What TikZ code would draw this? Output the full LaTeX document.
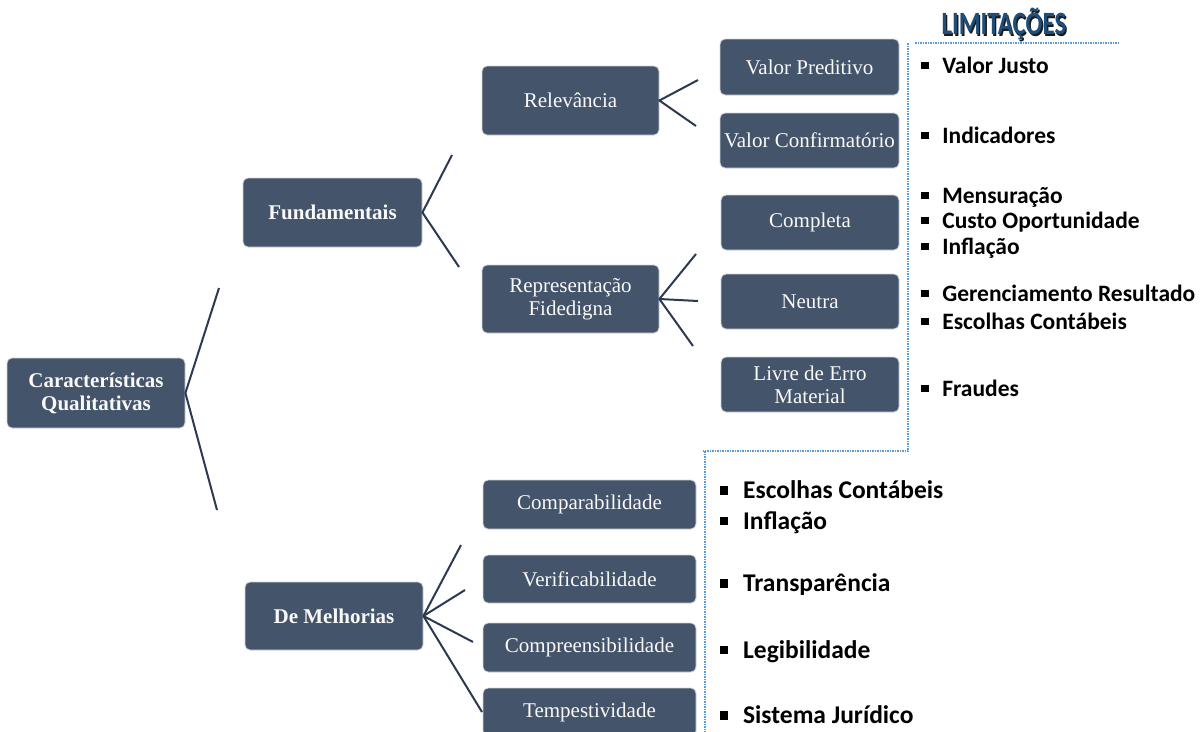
\documentclass[tikz,border=0pt]{standalone}
\usepackage{fontspec}
\setmainfont{Liberation Serif}
\newfontfamily\calib{Carlito}
\usepackage{graphicx}
\definecolor{boxfill}{HTML}{44546A}
\definecolor{boxedge}{HTML}{D0D4DA}
\definecolor{linkcol}{HTML}{2B3A52}
\definecolor{dotblue}{HTML}{5B9BD5}
\definecolor{headblue}{HTML}{1F4E79}
\newcommand\sqbul{\rule[0.17em]{0.32em}{0.32em}\hspace{0.58em}}
\tikzset{
  box/.style={draw=boxedge, line width=0.8pt, fill=boxfill, rounded corners=5pt,
    text=white!95!gray, align=center, inner sep=2pt,
    font=\fontsize{21}{23}\selectfont},
  boldbox/.style={box, font=\fontsize{21}{23}\selectfont\bfseries},
  link/.style={draw=linkcol, line width=2pt},
  limitem/.style={anchor=west, inner sep=0pt, font=\calib\bfseries\fontsize{23.5}{26}\selectfont},
  limitemb/.style={limitem, font=\calib\bfseries\fontsize{25.5}{28}\selectfont},
  guide/.style={draw=dotblue, line width=1.2pt, dash pattern=on 1.5pt off 1pt}
}
\begin{document}
\begin{tikzpicture}[x=1pt,y=-1pt]
\useasboundingbox (0,0) rectangle (1202,731);
\begin{scope}
\clip (0,0) rectangle (1202,731);

% main boxes
\node[boldbox, minimum width=178pt, minimum height=70pt] (cq) at (96,393) {Características\\Qualitativas};
\node[boldbox, minimum width=179pt, minimum height=69pt] (fund) at (332.5,212.5) {Fundamentais};
\node[boldbox, minimum width=178pt, minimum height=68pt] (melh) at (334,616) {De Melhorias};

% second level
\node[box, minimum width=177pt, minimum height=69pt] (rel) at (570.5,100.5) {Relevância};
\node[box, minimum width=177pt, minimum height=68pt] (rep) at (570.5,299) {Representação\\Fidedigna};

% third level (fundamentals)
\node[box, minimum width=179pt, minimum height=56pt] (vp) at (809.5,67) {Valor Preditivo};
\node[box, minimum width=179pt, minimum height=55pt] (vc) at (809.5,140.5) {Valor Confirmatório};
\node[box, minimum width=178pt, minimum height=55pt] (comp) at (810,222.5) {Completa};
\node[box, minimum width=178pt, minimum height=55pt] (neu) at (810,301.5) {Neutra};
\node[box, minimum width=178pt, minimum height=55pt] (livre) at (810,384.5) {Livre de Erro\\Material};

% enhancing characteristics
\node[box, minimum width=213pt, minimum height=49pt] (compar) at (589.5,504.5) {Comparabilidade};
\node[box, minimum width=213pt, minimum height=48pt] (verif) at (589.5,579) {Verificabilidade};
\node[box, minimum width=213pt, minimum height=49pt] (compr) at (589.5,647.5) {Compreensibilidade};
\node[box, minimum width=213pt, minimum height=48pt] (temp) at (589.5,712) {Tempestividade};

% free ends of the brackets
\coordinate (cqA) at (219,288);
\coordinate (cqB) at (217,510);
\coordinate (fuA) at (452,155);
\coordinate (fuB) at (459,267);
\coordinate (reA) at (698,80);
\coordinate (reB) at (696,126);
\coordinate (rpA) at (696,254);
\coordinate (rpB) at (698,301);
\coordinate (rpC) at (693,346);
\coordinate (meA) at (461,545);
\coordinate (meB) at (465,590);
\coordinate (meC) at (473,642);
\coordinate (meD) at (482,712);

\draw[link] (cqA) -- (cq.east) -- (cqB);
\draw[link] (fuA) -- (fund.east) -- (fuB);
\draw[link] (reA) -- (rel.east) -- (reB);
\draw[link] (rpA) -- (rep.east) -- (rpC);
\draw[link] (rep.east) -- (rpB);
\draw[link] (meA) -- (melh.east) -- (meD);
\draw[link] (melh.east) -- (meB);
\draw[link] (melh.east) -- (meC);

% dotted guides framing the limitations
\coordinate (g1) at (915,43);
\coordinate (g2) at (1120,43);
\coordinate (g3) at (908,43);
\coordinate (g4) at (908,451);
\coordinate (g5) at (703,451);
\coordinate (g6) at (705,451);
\coordinate (g7) at (705,735);
\draw[guide] (g1) -- (g2);
\draw[guide] (g3) -- (g4) -- (g5);
\draw[guide] (g6) -- (g7);

% heading with a dark drop shadow
\node[inner sep=0pt, text=headblue, font=\calib\bfseries\fontsize{25}{27}\selectfont] (head) at (1004,25)
  {\scalebox{1.0}[1.3]{\makebox[0pt][l]{\raisebox{-1.3pt}{\hspace{1.3pt}\color{black!90}LIMITAÇÕES}}LIMITAÇÕES}};

% limitations of the fundamental characteristics
\node[limitem] (l1) at (921,65) {\sqbul Valor Justo};
\node[limitem] (l2) at (921,135) {\sqbul Indicadores};
\node[limitem] (l3) at (921,197) {\sqbul Mensuração};
\node[limitem] (l4) at (921,222) {\sqbul Custo Oportunidade};
\node[limitem] (l5) at (921,248) {\sqbul Inflação};
\node[limitem] (l6) at (921,293) {\sqbul Gerenciamento Resultado};
\node[limitem] (l7) at (921,321) {\sqbul Escolhas Contábeis};
\node[limitem] (l8) at (921,388) {\sqbul Fraudes};

% limitations of the enhancing characteristics
\node[limitemb] (m1) at (720,490) {\sqbul Escolhas Contábeis};
\node[limitemb] (m2) at (720,523) {\sqbul Inflação};
\node[limitemb] (m3) at (720,585) {\sqbul Transparência};
\node[limitemb] (m4) at (720,652) {\sqbul Legibilidade};
\node[limitemb] (m5) at (720,715) {\sqbul Sistema Jurídico};
\end{scope}
\end{tikzpicture}
\end{document}
